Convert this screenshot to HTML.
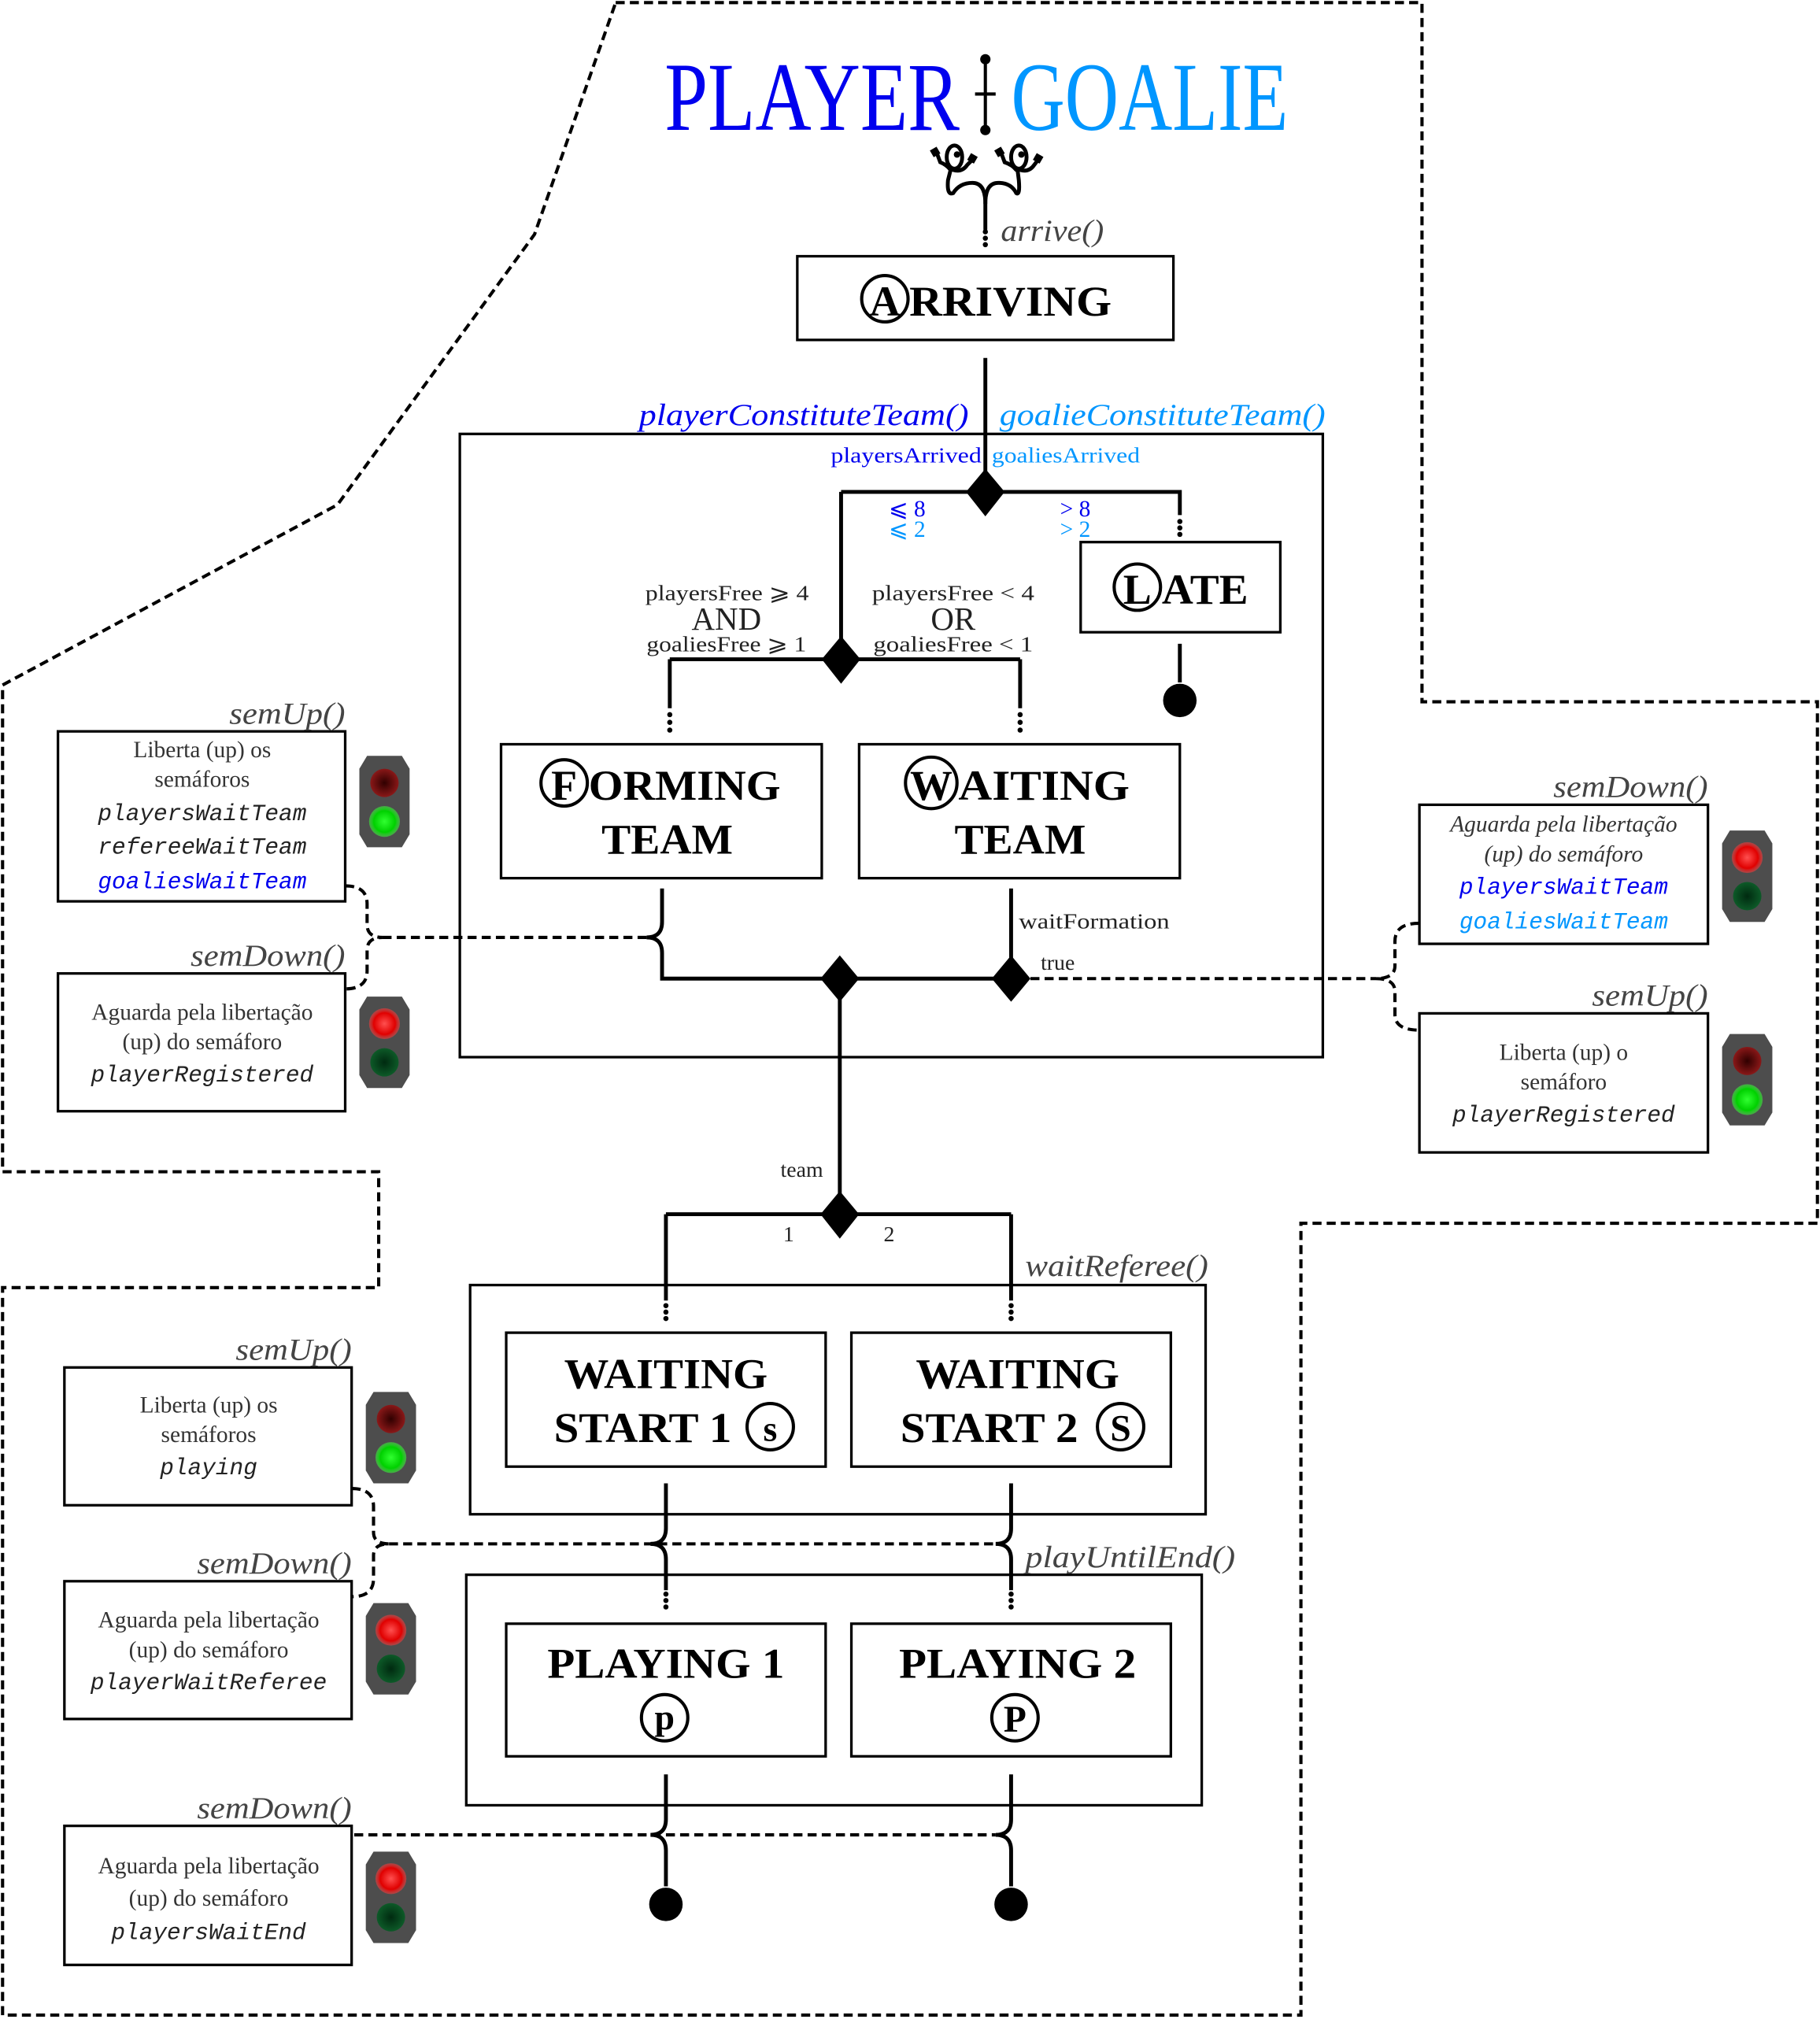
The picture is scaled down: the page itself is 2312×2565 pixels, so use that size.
<!DOCTYPE html>
<html><head><meta charset="utf-8"><style>
html,body{margin:0;padding:0;background:#fff}
svg{display:block}
.st{font-family:"Liberation Serif",serif;font-weight:bold;font-size:33px;fill:#000}
.it{font-family:"Liberation Serif",serif;font-style:italic;fill:#444;font-size:24px}
.sm{font-family:"Liberation Serif",serif;font-size:17px;fill:#222}
.bx{font-family:"Liberation Serif",serif;font-size:18px;fill:#333}
.mo{font-family:"Liberation Mono",monospace;font-style:italic;font-size:18px;fill:#222}
</style></head><body>
<svg width="2312" height="2565" viewBox="0 0 1413 1568" preserveAspectRatio="none" xmlns="http://www.w3.org/2000/svg">
<defs>
<radialGradient id="ron"><stop offset="0" stop-color="#ff5050"/><stop offset="0.7" stop-color="#e00000"/><stop offset="1" stop-color="#ff4040" stop-opacity="0.5"/></radialGradient>
<radialGradient id="gon"><stop offset="0" stop-color="#30ff30"/><stop offset="0.7" stop-color="#00d000"/><stop offset="1" stop-color="#40ff40" stop-opacity="0.5"/></radialGradient>
<radialGradient id="roff"><stop offset="0" stop-color="#300000"/><stop offset="1" stop-color="#8a1818"/></radialGradient>
<radialGradient id="goff"><stop offset="0" stop-color="#002a10"/><stop offset="1" stop-color="#0d5a28"/></radialGradient>
<g id="tlR"><polygon points="6,0 33,0 39,10 39,61 33,71 6,71 0,61 0,10" fill="#4d4d4d"/><circle cx="19.5" cy="21" r="12" fill="url(#ron)"/><circle cx="19.5" cy="51" r="11" fill="url(#goff)"/></g>
<g id="tlG"><polygon points="6,0 33,0 39,10 39,61 33,71 6,71 0,61 0,10" fill="#4d4d4d"/><circle cx="19.5" cy="21" r="11" fill="url(#roff)"/><circle cx="19.5" cy="51" r="12" fill="url(#gon)"/></g>
</defs>

<polygon points="478,2 1104,2 1104,545 1411,545 1411,950 1010,950 1010,1565 2,1565 2,1000 294,1000 294,910 2,910 2,532 262,392 415,182" fill="none" stroke="#000" stroke-width="2.5" stroke-dasharray="7,4"/>

<text x="516" y="101" font-family="Liberation Serif,serif" font-size="76" fill="#0000ee" textLength="229" lengthAdjust="spacingAndGlyphs">PLAYER</text>
<text x="785" y="101" font-family="Liberation Serif,serif" font-size="76" fill="#0096ff" textLength="215" lengthAdjust="spacingAndGlyphs">GOALIE</text>
<line x1="765" y1="45" x2="765" y2="102" stroke="#000" stroke-width="2.5"/>
<circle cx="765" cy="46" r="4"/><circle cx="765" cy="101" r="4"/>
<line x1="757" y1="73" x2="773" y2="73" stroke="#000" stroke-width="2.5"/>

<g fill="none" stroke="#000" stroke-width="3" stroke-linecap="round">
<path d="M765,178 L765,158 Q765,142 755,142 Q745,142 740,150 Q735,152 736,140 L738,132"/>
<path d="M765,158 Q765,142 775,142 Q785,142 789,150 Q792,152 791,140 L790,132"/>
<ellipse cx="741" cy="122" rx="6" ry="9"/><ellipse cx="791" cy="122" rx="6" ry="9"/>
<path d="M738,132 Q735,128 730,126 L727,118"/><path d="M740,132 Q747,134 751,128 L755,124"/>
<path d="M789,132 Q786,128 780,126 L777,118"/><path d="M792,132 Q799,134 803,128 L806,124"/>
</g>
<circle cx="743" cy="120" r="2.5"/><circle cx="793" cy="120" r="2.5"/>
<rect x="723" y="115" width="6" height="6" transform="rotate(-30 726 118)"/><rect x="752" y="120" width="6" height="6" transform="rotate(30 755 123)"/>
<rect x="773" y="115" width="6" height="6" transform="rotate(-30 776 118)"/><rect x="803" y="120" width="6" height="6" transform="rotate(30 806 123)"/>
<circle cx="765" cy="180" r="2"/><circle cx="765" cy="185" r="2"/><circle cx="765" cy="190" r="2"/>
<text x="777" y="187" class="it" textLength="80" lengthAdjust="spacingAndGlyphs">arrive()</text>

<g fill="none" stroke="#000" stroke-width="2">
<rect x="619" y="199" width="292" height="65"/>
<rect x="357" y="337" width="670" height="484"/>
<rect x="839" y="421" width="155" height="70"/>
<rect x="389" y="578" width="249" height="104"/>
<rect x="667" y="578" width="249" height="104"/>
<rect x="365" y="998" width="571" height="178"/>
<rect x="393" y="1035" width="248" height="104"/>
<rect x="661" y="1035" width="248" height="104"/>
<rect x="362" y="1223" width="571" height="179"/>
<rect x="393" y="1261" width="248" height="103"/>
<rect x="661" y="1261" width="248" height="103"/>
<rect x="45" y="568" width="223" height="132"/>
<rect x="45" y="756" width="223" height="107"/>
<rect x="1102" y="625" width="224" height="108"/>
<rect x="1102" y="787" width="224" height="108"/>
<rect x="50" y="1062" width="223" height="107"/>
<rect x="50" y="1228" width="223" height="107"/>
<rect x="50" y="1418" width="223" height="108"/>
</g>

<circle cx="687" cy="232" r="18" fill="none" stroke="#000" stroke-width="2.5"/>
<text x="687" y="245" class="st" text-anchor="middle">A</text>
<text x="706" y="245" class="st" textLength="157" lengthAdjust="spacingAndGlyphs">RRIVING</text>

<g fill="none" stroke="#000" stroke-width="3">
<path d="M765,278 V382 M653,382 H916 V400 M653,382 V512 M520,512 H792 M520,512 V550 M792,512 V550"/>
<path d="M916,500 V530"/>
<path d="M514,690 V716 Q514,728 502,728 Q514,728 514,740 V760 H785 M785,690 V760"/>
<path d="M652,760 V943 M517,943 H785 M517,943 V1010 M785,943 V1010"/>
<path d="M517,1152 V1187 Q517,1199 505,1199 Q517,1199 517,1211 V1235 M785,1152 V1187 Q785,1199 773,1199 Q785,1199 785,1211 V1235"/>
<path d="M517,1378 V1413 Q517,1425 505,1425 Q517,1425 517,1437 V1465 M785,1378 V1413 Q785,1425 773,1425 Q785,1425 785,1437 V1465"/>
</g>
<g fill="#000">
<circle cx="916" cy="405" r="2"/><circle cx="916" cy="410" r="2"/><circle cx="916" cy="415" r="2"/>
<circle cx="520" cy="555" r="2"/><circle cx="520" cy="561" r="2"/><circle cx="520" cy="567" r="2"/>
<circle cx="792" cy="555" r="2"/><circle cx="792" cy="561" r="2"/><circle cx="792" cy="567" r="2"/>
<circle cx="517" cy="1014" r="2"/><circle cx="517" cy="1019" r="2"/><circle cx="517" cy="1024" r="2"/>
<circle cx="785" cy="1014" r="2"/><circle cx="785" cy="1019" r="2"/><circle cx="785" cy="1024" r="2"/>
<circle cx="517" cy="1238" r="2"/><circle cx="517" cy="1243" r="2"/><circle cx="517" cy="1248" r="2"/>
<circle cx="785" cy="1238" r="2"/><circle cx="785" cy="1243" r="2"/><circle cx="785" cy="1248" r="2"/>
<polygon points="765,364 780,382 765,401 750,382"/>
<polygon points="653,494 668,512 653,531 638,512"/>
<polygon points="652,742 667,760 652,778 637,760"/>
<polygon points="785,742 800,760 785,778 770,760"/>
<polygon points="652,925 667,943 652,962 637,943"/>
<circle cx="916" cy="544" r="13"/>
<circle cx="517" cy="1479" r="13"/><circle cx="785" cy="1479" r="13"/>
</g>

<g fill="none" stroke="#000" stroke-width="2.5" stroke-dasharray="7,4">
<path d="M268,688 Q285,688 285,702 V718 Q285,728 297,728 Q285,728 285,738 V754 Q285,768 268,768"/>
<path d="M297,728 H502"/>
<path d="M800,760 H1068"/>
<path d="M1102,717 Q1083,717 1083,731 V750 Q1083,760 1068,760 Q1083,760 1083,770 V788 Q1083,800 1102,800"/>
<path d="M273,1156 Q290,1156 290,1170 V1190 Q290,1199 302,1199 Q290,1199 290,1208 V1226 Q290,1240 273,1240"/>
<path d="M302,1199 H773"/>
<path d="M275,1425 H773"/>
</g>

<text x="496" y="330" font-family="Liberation Serif,serif" font-style="italic" font-size="24" fill="#0000ee" textLength="256" lengthAdjust="spacingAndGlyphs">playerConstituteTeam()</text>
<text x="776" y="330" font-family="Liberation Serif,serif" font-style="italic" font-size="24" fill="#0096ff" textLength="253" lengthAdjust="spacingAndGlyphs">goalieConstituteTeam()</text>
<text x="645" y="359" font-family="Liberation Serif,serif" font-size="17" fill="#0000ee" textLength="117" lengthAdjust="spacingAndGlyphs">playersArrived</text>
<text x="770" y="359" font-family="Liberation Serif,serif" font-size="17" fill="#0096ff" textLength="115" lengthAdjust="spacingAndGlyphs">goaliesArrived</text>
<text x="690" y="401" font-family="Liberation Serif,serif" font-size="18" fill="#0000ee">⩽ 8</text>
<text x="690" y="417" font-family="Liberation Serif,serif" font-size="18" fill="#0096ff">⩽ 2</text>
<text x="823" y="401" font-family="Liberation Serif,serif" font-size="18" fill="#0000ee">&gt; 8</text>
<text x="823" y="417" font-family="Liberation Serif,serif" font-size="18" fill="#0096ff">&gt; 2</text>

<text x="501" y="466" class="sm" textLength="127" lengthAdjust="spacingAndGlyphs">playersFree ⩾ 4</text>
<text x="564" y="489" class="sm" text-anchor="middle" style="font-size:25px">AND</text>
<text x="502" y="506" class="sm" textLength="124" lengthAdjust="spacingAndGlyphs">goaliesFree ⩾ 1</text>
<text x="677" y="466" class="sm" textLength="126" lengthAdjust="spacingAndGlyphs">playersFree &lt; 4</text>
<text x="740" y="489" class="sm" text-anchor="middle" style="font-size:25px">OR</text>
<text x="678" y="506" class="sm" textLength="124" lengthAdjust="spacingAndGlyphs">goaliesFree &lt; 1</text>

<circle cx="883" cy="456" r="18" fill="none" stroke="#000" stroke-width="2.5"/>
<text x="883" y="469" class="st" text-anchor="middle">L</text>
<text x="902" y="469" class="st" textLength="67" lengthAdjust="spacingAndGlyphs">ATE</text>
<circle cx="438" cy="608" r="18" fill="none" stroke="#000" stroke-width="2.5"/>
<text x="438" y="621" class="st" text-anchor="middle">F</text>
<text x="457" y="621" class="st" textLength="149" lengthAdjust="spacingAndGlyphs">ORMING</text>
<text x="518" y="663" class="st" text-anchor="middle" textLength="102" lengthAdjust="spacingAndGlyphs">TEAM</text>
<circle cx="723" cy="608" r="20" fill="none" stroke="#000" stroke-width="2.5"/>
<text x="723" y="621" class="st" text-anchor="middle">W</text>
<text x="744" y="621" class="st" textLength="133" lengthAdjust="spacingAndGlyphs">AITING</text>
<text x="792" y="663" class="st" text-anchor="middle" textLength="102" lengthAdjust="spacingAndGlyphs">TEAM</text>

<text x="791" y="721" class="sm" textLength="117" lengthAdjust="spacingAndGlyphs">waitFormation</text>
<text x="808" y="753" class="sm">true</text>
<text x="606" y="914" class="sm">team</text>
<text x="608" y="964" class="sm">1</text>
<text x="686" y="964" class="sm">2</text>
<text x="796" y="991" class="it" textLength="142" lengthAdjust="spacingAndGlyphs">waitReferee()</text>
<text x="796" y="1217" class="it" textLength="163" lengthAdjust="spacingAndGlyphs">playUntilEnd()</text>

<text x="517" y="1078" class="st" text-anchor="middle" textLength="158" lengthAdjust="spacingAndGlyphs">WAITING</text>
<text x="430" y="1120" class="st" textLength="138" lengthAdjust="spacingAndGlyphs">START 1</text>
<circle cx="598" cy="1108" r="18" fill="none" stroke="#000" stroke-width="2.5"/>
<text x="598" y="1119" class="st" text-anchor="middle" style="font-size:28px">s</text>
<text x="790" y="1078" class="st" text-anchor="middle" textLength="158" lengthAdjust="spacingAndGlyphs">WAITING</text>
<text x="699" y="1120" class="st" textLength="138" lengthAdjust="spacingAndGlyphs">START 2</text>
<circle cx="870" cy="1108" r="18" fill="none" stroke="#000" stroke-width="2.5"/>
<text x="870" y="1119" class="st" text-anchor="middle" style="font-size:29px">S</text>
<text x="517" y="1303" class="st" text-anchor="middle" textLength="184" lengthAdjust="spacingAndGlyphs">PLAYING 1</text>
<circle cx="516" cy="1334" r="18" fill="none" stroke="#000" stroke-width="2.5"/>
<text x="516" y="1343" class="st" text-anchor="middle" style="font-size:28px">p</text>
<text x="790" y="1303" class="st" text-anchor="middle" textLength="184" lengthAdjust="spacingAndGlyphs">PLAYING 2</text>
<circle cx="788" cy="1334" r="18" fill="none" stroke="#000" stroke-width="2.5"/>
<text x="788" y="1345" class="st" text-anchor="middle" style="font-size:29px">P</text>

<text x="178" y="562" class="it" textLength="90" lengthAdjust="spacingAndGlyphs">semUp()</text>
<text x="157" y="588" class="bx" text-anchor="middle">Liberta (up) os</text>
<text x="157" y="611" class="bx" text-anchor="middle">semáforos</text>
<text x="157" y="637" class="mo" text-anchor="middle">playersWaitTeam</text>
<text x="157" y="663" class="mo" text-anchor="middle">refereeWaitTeam</text>
<text x="157" y="690" class="mo" text-anchor="middle" style="fill:#0000ee">goaliesWaitTeam</text>
<use href="#tlG" x="279" y="587"/>

<text x="148" y="750" class="it" textLength="120" lengthAdjust="spacingAndGlyphs">semDown()</text>
<text x="157" y="792" class="bx" text-anchor="middle">Aguarda pela libertação</text>
<text x="157" y="815" class="bx" text-anchor="middle">(up) do semáforo</text>
<text x="157" y="840" class="mo" text-anchor="middle">playerRegistered</text>
<use href="#tlR" x="279" y="774"/>

<text x="1206" y="619" class="it" textLength="120" lengthAdjust="spacingAndGlyphs">semDown()</text>
<text x="1214" y="646" class="bx" text-anchor="middle" font-style="italic">Aguarda pela libertação</text>
<text x="1214" y="669" class="bx" text-anchor="middle" font-style="italic">(up) do semáforo</text>
<text x="1214" y="694" class="mo" text-anchor="middle" style="fill:#0000ee">playersWaitTeam</text>
<text x="1214" y="721" class="mo" text-anchor="middle" style="fill:#0096ff">goaliesWaitTeam</text>
<use href="#tlR" x="1337" y="645"/>

<text x="1236" y="781" class="it" textLength="90" lengthAdjust="spacingAndGlyphs">semUp()</text>
<text x="1214" y="823" class="bx" text-anchor="middle">Liberta (up) o</text>
<text x="1214" y="846" class="bx" text-anchor="middle">semáforo</text>
<text x="1214" y="871" class="mo" text-anchor="middle">playerRegistered</text>
<use href="#tlG" x="1337" y="803"/>

<text x="183" y="1056" class="it" textLength="90" lengthAdjust="spacingAndGlyphs">semUp()</text>
<text x="162" y="1097" class="bx" text-anchor="middle">Liberta (up) os</text>
<text x="162" y="1120" class="bx" text-anchor="middle">semáforos</text>
<text x="162" y="1145" class="mo" text-anchor="middle">playing</text>
<use href="#tlG" x="284" y="1081"/>

<text x="153" y="1222" class="it" textLength="120" lengthAdjust="spacingAndGlyphs">semDown()</text>
<text x="162" y="1264" class="bx" text-anchor="middle">Aguarda pela libertação</text>
<text x="162" y="1287" class="bx" text-anchor="middle">(up) do semáforo</text>
<text x="162" y="1312" class="mo" text-anchor="middle">playerWaitReferee</text>
<use href="#tlR" x="284" y="1245"/>

<text x="153" y="1412" class="it" textLength="120" lengthAdjust="spacingAndGlyphs">semDown()</text>
<text x="162" y="1455" class="bx" text-anchor="middle">Aguarda pela libertação</text>
<text x="162" y="1480" class="bx" text-anchor="middle">(up) do semáforo</text>
<text x="162" y="1506" class="mo" text-anchor="middle">playersWaitEnd</text>
<use href="#tlR" x="284" y="1438"/>
</svg>
</body></html>
